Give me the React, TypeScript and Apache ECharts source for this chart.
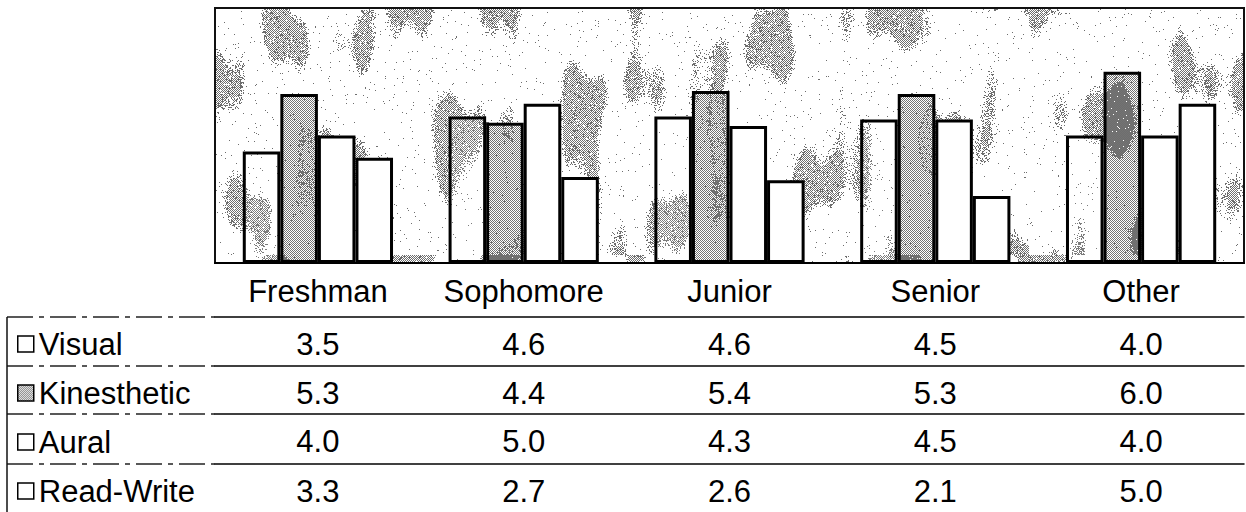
import React, { useEffect, useRef } from "react";
import * as echarts from "echarts";

// ---- data ----
const categories = ["Freshman", "Sophomore", "Junior", "Senior", "Other"];
const seriesNames = ["Visual", "Kinesthetic", "Aural", "Read-Write"];
const visual = [3.5, 4.6, 4.6, 4.5, 4.0];
const kinesthetic = [5.3, 4.4, 5.4, 5.3, 6.0];
const aural = [4.0, 5.0, 4.3, 4.5, 4.0];
const readWrite = [3.3, 2.7, 2.6, 2.1, 5.0];
const yMax = 8;

// ---- layout ----
const PLOT_LEFT = 215;
const PLOT_TOP = 8;
const PLOT_RIGHT = 2;
const AXIS_Y = 263; // bottom edge of the plot area
const ROW_LINES = [317, 366, 414, 464]; // top edge of each data-table row
const TABLE_BOTTOM = 512;
const TABLE_LEFT = 7;
const FONT = "'Liberation Sans', Arial, Helvetica, sans-serif";
const FONT_SIZE = 31;

// deterministic hash used only for the paper-like backdrop texture
function hash(x: number, y: number) {
  const s = Math.sin(x * 12.9898 + y * 78.233) * 43758.5453;
  return s - Math.floor(s);
}

// mottled halftone backdrop for the plot area
function makeBackdrop(w: number, h: number): HTMLCanvasElement {
  const c = document.createElement("canvas");
  c.width = w;
  c.height = h;
  const ctx = c.getContext("2d")!;
  const img = ctx.createImageData(w, h);
  for (let y = 0; y < h; y++) {
    for (let x = 0; x < w; x++) {
      const n =
        Math.sin(x * 0.05 + 0.8) * Math.sin(y * 0.021 + 1.7) +
        0.7 * Math.sin(x * 0.013 + y * 0.043 + 2.1) +
        0.5 * Math.cos(x * 0.09 - y * 0.017) +
        0.35 * Math.sin(x * 0.031 - y * 0.062 + 0.4) +
        0.3 * Math.sin(x * 0.21 + y * 0.013);
      const r = hash(x, y);
      let dark = false;
      if (n > 0.9) dark = (((x + y) & 1) === 0 && r > 0.15) || r < 0.1;
      else if (n > 0.45) dark = r < (n - 0.45) * 1.0;
      else dark = r < 0.01;
      const v = dark ? 110 : 255;
      const i = (y * w + x) * 4;
      img.data[i] = v;
      img.data[i + 1] = v;
      img.data[i + 2] = v;
      img.data[i + 3] = 255;
    }
  }
  ctx.putImageData(img, 0, 0);
  return c;
}

// fine checkerboard dither (half-transparent) for the Kinesthetic bars
function makeDither(): HTMLCanvasElement {
  const c = document.createElement("canvas");
  c.width = 4;
  c.height = 4;
  const ctx = c.getContext("2d")!;
  const img = ctx.createImageData(4, 4);
  for (let y = 0; y < 4; y++) {
    for (let x = 0; x < 4; x++) {
      const i = (y * 4 + x) * 4;
      const on = ((x + y) & 1) === 0;
      img.data[i] = 115;
      img.data[i + 1] = 115;
      img.data[i + 2] = 115;
      img.data[i + 3] = on ? 255 : 0;
    }
  }
  ctx.putImageData(img, 0, 0);
  return c;
}

const tableRows = [visual, kinesthetic, aural, readWrite];

function buildOption() {
  const backdrop = makeBackdrop(1029, 255);
  const dither = makeDither();

  const fills: any[] = [
    "rgba(255,255,255,0.1)",
    { image: dither, repeat: "repeat" },
    "#ffffff",
    "#ffffff",
  ];

  const labelStyle = {
    interval: 0,
    color: "#000",
    fontSize: FONT_SIZE,
    lineHeight: 32,
    fontFamily: FONT,
  };

  const xAxes: any[] = [
    {
      type: "category",
      data: categories,
      position: "bottom",
      axisLine: { lineStyle: { color: "#000", width: 2 } },
      axisTick: {
        interval: 0,
        length: ROW_LINES[0] - AXIS_Y,
        lineStyle: { color: "#000", width: 1.5 },
      },
      axisLabel: { ...labelStyle, margin: 12 },
    },
  ];
  ROW_LINES.forEach((lineY, r) => {
    const next = r + 1 < ROW_LINES.length ? ROW_LINES[r + 1] : TABLE_BOTTOM;
    const values = tableRows[r];
    xAxes.push({
      type: "category",
      data: categories,
      position: "bottom",
      offset: lineY - AXIS_Y,
      axisLine: { lineStyle: { color: "#000", width: 1.5 } },
      axisTick: {
        interval: 0,
        length: next - lineY,
        lineStyle: { color: "#000", width: 1.5 },
      },
      axisLabel: {
        ...labelStyle,
        margin: 11,
        formatter: (_v: string, idx: number) => values[idx].toFixed(1),
      },
    });
  });

  const seriesData = [visual, kinesthetic, aural, readWrite];

  // rules of the legend column, left of the value table
  const graphics: any[] = ROW_LINES.map((y) => ({
    type: "line",
    shape: { x1: TABLE_LEFT, y1: y, x2: PLOT_LEFT, y2: y },
    style: { stroke: "#222", lineWidth: 1.5, lineDash: [26, 6, 5, 6] },
    silent: true,
  }));
  graphics.push({
    type: "line",
    shape: { x1: TABLE_LEFT, y1: ROW_LINES[0], x2: TABLE_LEFT, y2: TABLE_BOTTOM },
    style: { stroke: "#111", lineWidth: 1.5 },
    silent: true,
  });

  return {
    animation: false,
    backgroundColor: "#ffffff",
    grid: {
      left: PLOT_LEFT,
      top: PLOT_TOP,
      right: PLOT_RIGHT,
      height: AXIS_Y - PLOT_TOP,
      show: true,
      backgroundColor: { image: backdrop, repeat: "repeat" },
      borderColor: "#111",
      borderWidth: 2,
      containLabel: false,
      outerBoundsMode: "none",
    },
    xAxis: xAxes,
    yAxis: {
      type: "value",
      min: 0,
      max: yMax,
      show: false,
      splitLine: { show: false },
    },
    legend: {
      orient: "vertical",
      left: 17,
      top: 328,
      padding: 0,
      itemWidth: 16,
      itemHeight: 16,
      itemGap: 17,
      icon: "rect",
      data: seriesNames,
      itemStyle: { borderColor: "#000", borderWidth: 1.5 },
      textStyle: {
        color: "#000",
        fontSize: FONT_SIZE,
        lineHeight: 32,
        fontFamily: FONT,
      },
      selectedMode: false,
    },
    graphic: graphics,
    series: seriesNames.map((name, i) => ({
      name,
      type: "bar",
      xAxisIndex: 0,
      data: seriesData[i],
      barGap: "0%",
      barCategoryGap: "27%",
      itemStyle: {
        color: fills[i],
        borderColor: "#000",
        borderWidth: 3,
      },
      emphasis: { disabled: true },
    })),
  };
}

export default function App() {
  const ref = useRef<HTMLDivElement>(null);
  useEffect(() => {
    document.body.style.margin = "0";
    const chart = echarts.init(ref.current!, null, { renderer: "svg" });
    chart.setOption(buildOption() as any);
    return () => chart.dispose();
  }, []);
  return <div ref={ref} style={{ width: 1246, height: 512 }} />;
}
